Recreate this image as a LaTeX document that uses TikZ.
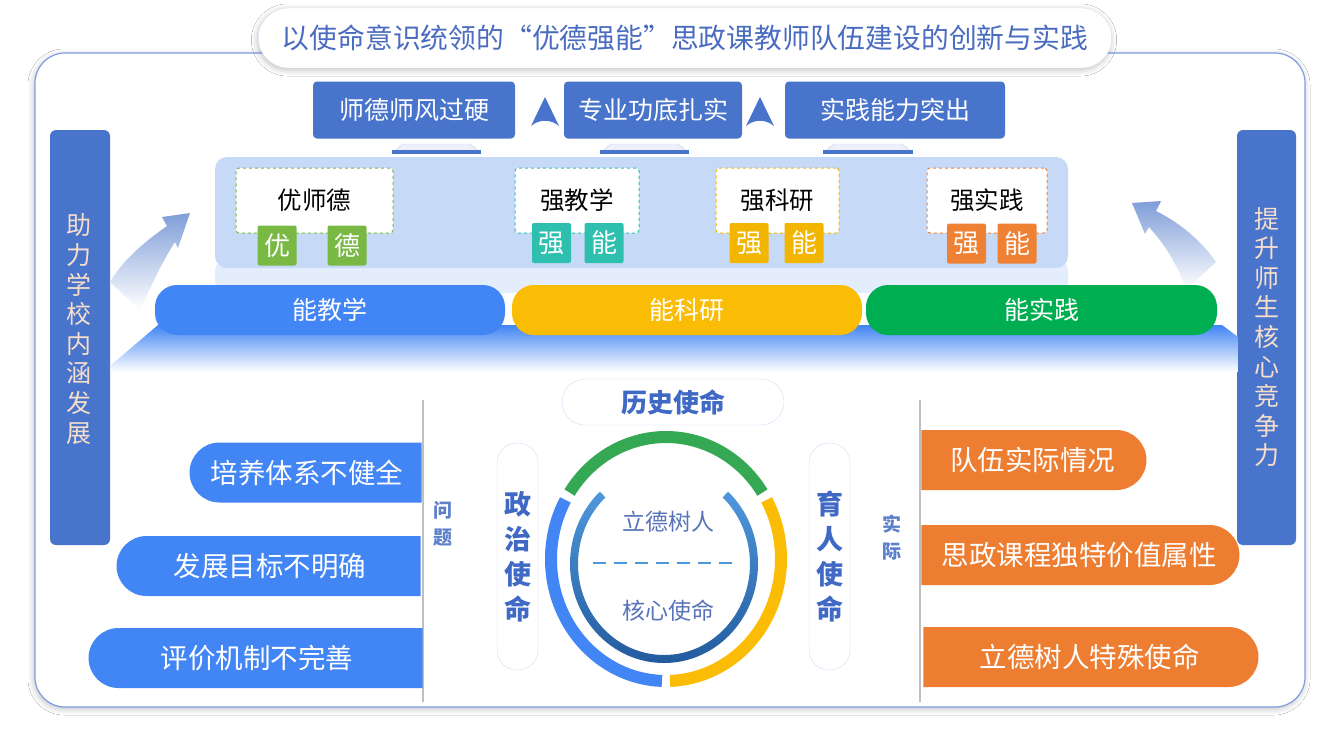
\documentclass[tikz,border=0pt]{standalone}
\usepackage{fontspec}
\setmainfont{Noto Sans CJK SC}
\usetikzlibrary{shapes.misc,positioning,calc,shadows.blur}

\definecolor{topblue}{HTML}{4874CB}
\definecolor{panelblue}{HTML}{C6DAF8}
\definecolor{panelband}{HTML}{E4EDFC}
\definecolor{gblue}{HTML}{4285F4}
\definecolor{gyellow}{HTML}{FBBC05}
\definecolor{ggreen}{HTML}{00AE52}
\definecolor{tgreen}{HTML}{78B843}
\definecolor{tteal}{HTML}{2FBFAE}
\definecolor{tyellow}{HTML}{F2B500}
\definecolor{torange}{HTML}{EE8133}
\definecolor{orangec}{HTML}{ED7D31}
\definecolor{peach}{HTML}{F7DECB}
\definecolor{titleblue}{HTML}{4A6CC0}
\definecolor{frameblue}{HTML}{7D9DE2}
\definecolor{missionblue}{HTML}{3F69C4}
\definecolor{lblblue}{HTML}{5D80CB}
\definecolor{ringgreen}{HTML}{34A853}
\definecolor{ringtop}{HTML}{4F97DC}
\definecolor{ringbot}{HTML}{20589A}
\definecolor{innertext}{HTML}{5873BA}
\definecolor{arrowblue}{HTML}{7F9DD8}

\newcommand{\fsz}[2]{\fontsize{#1pt}{#2pt}\selectfont}

\begin{document}
\begin{tikzpicture}[
    x=1pt, y=-1pt,
    font=\fsz{22}{26},
    % --- node styles ---
    topbox/.style   = {rectangle, fill=topblue, rounded corners=4pt, text=white,
                       minimum height=57pt, inner sep=0pt, font=\fsz{25}{25}},
    skillbox/.style = {rectangle, draw=#1, dashed, line width=1pt, fill=white,
                       rounded corners=3pt, minimum height=65pt, inner sep=0pt,
                       font=\fsz{24.5}{24.5}},
    tag/.style      = {rectangle, fill=#1, rounded corners=2pt, text=white,
                       minimum width=39pt, minimum height=40pt, inner sep=0pt,
                       font=\fsz{26}{26}},
    ability/.style  = {rectangle, fill=#1, rounded corners=22pt, text=white,
                       minimum width=350pt, minimum height=50pt, inner sep=0pt,
                       font=\fsz{25}{25}},
    sidebar/.style  = {rectangle, fill=topblue, rounded corners=6pt,
                       minimum width=60pt, minimum height=415pt, inner sep=0pt},
    sidetext/.style = {align=center, text=peach, inner sep=0pt, font=\fsz{25}{29.6}},
    issue/.style    = {rounded rectangle, rounded rectangle right arc=none,
                       fill=gblue, text=white, minimum height=60pt, inner sep=0pt,
                       font=\fsz{27.5}{27.5}},
    fact/.style     = {rounded rectangle, rounded rectangle left arc=none,
                       fill=orangec, text=white, minimum height=60pt, inner sep=0pt,
                       font=\fsz{27.5}{27.5}},
    mission/.style  = {rectangle, draw=frameblue!35, fill=white, rounded corners=20pt,
                       minimum width=41pt, minimum height=227pt, inner sep=0pt,
                       align=center, text=missionblue, font=\fsz{27}{35}\bfseries},
    sidelbl/.style  = {align=center, text=lblblue, inner sep=0pt,
                       font=\fsz{19}{27}\bfseries},
    ring/.style     = {line width=12pt},
    divider/.style  = {draw=black!25, line width=2pt},
    glow/.style     = {blur shadow={shadow xshift=-1pt, shadow yshift=-2pt,
                       shadow blur radius=6pt, shadow opacity=25}},
]

\useasboundingbox (0,0) rectangle (1340,748);
\fill[white] (0,0) rectangle (1340,748);

%============ FRAME + TITLE ============
\node (frame) [rectangle, draw=frameblue, line width=1.2pt, fill=white,
       rounded corners=30pt, minimum width=1270pt, minimum height=654pt,
       glow] at (670,380) {};

\node (title) [rounded rectangle, draw=frameblue!30, fill=white, glow,
       minimum width=860pt, minimum height=60pt, text=titleblue,
       font=\fsz{27.8}{27.8}] at (685,38)
  {以使命意识统领的“优德强能”思政课教师队伍建设的创新与实践};

%============ SIDE BARS ============
\node (lbar) [sidebar] at (80,337.5) {};
\node (ltext) [sidetext] at (79,329) {助\\力\\学\\校\\内\\涵\\发\\展};
\node (rbar) [sidebar, minimum width=59pt] at (1266.5,337.5) {};
\node (rtext) [sidetext] at (1266.5,337) {提\\升\\师\\生\\核\\心\\竞\\争\\力};

%============ TOP GOALS ============
\node (tb1) [topbox, minimum width=202pt] at (414,110) {师德师风过硬};
\node (tb2) [topbox, minimum width=178pt] at (653,110) {专业功底扎实};
\node (tb3) [topbox, minimum width=220pt] at (895,110) {实践能力突出};

% up markers between the goals
\foreach \x in {545,760}
  \fill[topblue] (\x,97) -- (\x+14,126) .. controls (\x+6,119) and (\x-6,119) .. (\x-14,126) -- cycle;

% pedestals under the goals
\foreach \l/\r in {392/481, 600/689, 823/913} {
  \fill[topblue!10] (\l,153) -- (\l+11,144) -- (\r-11,144) -- (\r,153) -- cycle;
  \draw[topblue!35] (\l,153) -- (\l+11,144) -- (\r-11,144) -- (\r,153);
  \fill[topblue] (\l,150) rectangle (\r,154);
}

%============ "YOU DE QIANG NENG" PANEL ============
\node (band) [rectangle, fill=panelband, rounded corners=12pt,
       minimum width=853pt, minimum height=34pt] at (641.5,276) {};
\node (panel) [rectangle, fill=panelblue, rounded corners=12pt,
       minimum width=853pt, minimum height=111pt] at (641.5,212.5) {};

\node (sk1) [skillbox=tgreen,  minimum width=157pt] at (314.5,200.5) {优师德};
\node (sk2) [skillbox=tteal,   minimum width=124pt] at (577,200.5)   {强教学};
\node (sk3) [skillbox=tyellow, minimum width=123pt] at (777.5,200.5) {强科研};
\node (sk4) [skillbox=torange, minimum width=120pt] at (987,200.5)   {强实践};

\node (t1a) [tag=tgreen]  at (277,245.5) {优};
\node (t1b) [tag=tgreen]  at (347,245.5) {德};
\node (t2a) [tag=tteal]   at (551.5,243) {强};
\node (t2b) [tag=tteal]   at (604,243)   {能};
\node (t3a) [tag=tyellow] at (749,243)   {强};
\node (t3b) [tag=tyellow] at (804,243)   {能};
\node (t4a) [tag=torange] at (966.5,243.5) {强};
\node (t4b) [tag=torange] at (1017,243.5)  {能};

%============ BASE PLATFORM ============
\shade[top color=gblue, middle color=gblue, bottom color=white]
  (110,366) -- (158,325) -- (1222,325) -- (1238,337) -- (1238,372) -- (110,372) -- cycle;

% rising arrows
\shade[top color=arrowblue, bottom color=white]
  (190,213) -- (162,217) -- (167,226) .. controls (140,245) and (122,262) .. (110,282)
  -- (140,310) .. controls (150,288) and (162,262) .. (175,242) -- (178,248) -- cycle;
\shade[top color=arrowblue, bottom color=white]
  (1132,203) -- (1161,201) -- (1156,211) .. controls (1182,224) and (1202,242) .. (1216,262)
  -- (1186,290) .. controls (1178,265) and (1165,245) .. (1149,227) -- (1145,234) -- cycle;

\node (ab1) [ability=gblue]   at (330,310)    {能教学};
\node (ab2) [ability=gyellow] at (687,310)    {能科研};
\node (ab3) [ability=ggreen, minimum width=351pt] at (1041.5,310) {能实践};

%============ PROBLEMS (LEFT) ============
\draw[divider] (423,400) -- (423,702);
\node (is1) [issue, minimum width=232pt] at (307,472.5) {培养体系不健全};
\node (is2) [issue, minimum width=304pt] at (270,566)   {发展目标不明确};
\node (is3) [issue, minimum width=334pt] at (257,658)   {评价机制不完善};
\node (wenti) [sidelbl] at (443,524) {问\\题};

%============ REALITY (RIGHT) ============
\draw[divider] (920,400) -- (920,702);
\node (fa1) [fact, minimum width=225pt] at (1032.5,460) {队伍实际情况};
\node (fa2) [fact, minimum width=318pt] at (1079,555)   {思政课程独特价值属性};
\node (fa3) [fact, minimum width=335pt] at (1089.5,657) {立德树人特殊使命};
\node (shiji) [sidelbl] at (892,538) {实\\际};

%============ MISSIONS (CENTRE) ============
\node (hist) [rounded rectangle, draw=frameblue!35, fill=white,
       minimum width=222pt, minimum height=46pt, inner sep=0pt,
       text=missionblue, font=\fsz{26}{26}\bfseries] at (673,402) {历史使命};
\node (pol) [mission] at (517.5,556.5) {政\\治\\使\\命};
\node (edu) [mission] at (829.5,556.5) {育\\人\\使\\命};

\coordinate (rc) at (666,559);
\coordinate (ic) at (664,564);
\draw[ring, ringgreen] ($(rc)+(-147:115 and 122)$)
  arc[start angle=-147, end angle=-33, x radius=115, y radius=122];
\draw[ring, gblue] ($(rc)+(92:115 and 122)$)
  arc[start angle=92, end angle=209, x radius=115, y radius=122];
\draw[ring, gyellow] ($(rc)+(-29:115 and 122)$)
  arc[start angle=-29, end angle=88, x radius=115, y radius=122];

\shade[top color=ringtop, bottom color=ringbot]
  ($(ic)+(-47:94 and 99)$) arc[start angle=-47, end angle=227, x radius=94, y radius=99]
  -- ($(ic)+(227:86 and 91)$) arc[start angle=227, end angle=-47, x radius=86, y radius=91]
  -- cycle;

\node (core1) [text=innertext, font=\fsz{23}{23}] at (668,522) {立德树人};
\node (core2) [text=innertext, font=\fsz{23}{23}] at (668,611) {核心使命};
\draw[ringtop, line width=2.5pt, dash pattern=on 13pt off 8pt]
  (593,563) -- (737,563);

\end{tikzpicture}
\end{document}
